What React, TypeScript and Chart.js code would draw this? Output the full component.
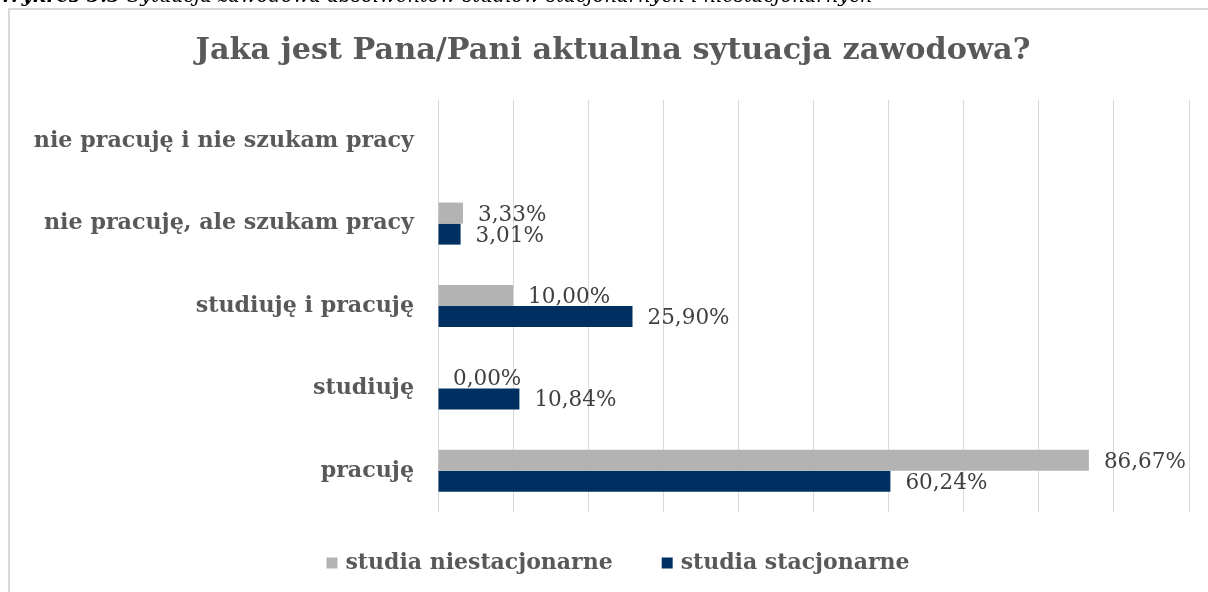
import React, { useEffect, useRef } from "react";
import { Chart, registerables } from "chart.js";

Chart.register(...registerables);

const title = "Jaka jest Pana/Pani aktualna sytuacja zawodowa?";
const caption = "Sytuacja zawodowa absolwentów studiów stacjonarnych i niestacjonarnych";
const captionLead = "Wykres 5.5";
const categories = [
  "nie pracuję i nie szukam pracy",
  "nie pracuję, ale szukam pracy",
  "studiuję i pracuję",
  "studiuję",
  "pracuję",
];
const seriesNames = ["studia niestacjonarne", "studia stacjonarne"];
const niestacjonarne: (number | null)[] = [null, 3.33, 10.0, 0.0, 86.67];
const stacjonarne: (number | null)[] = [null, 3.01, 25.9, 10.84, 60.24];
const seriesColors = ["#b3b3b3", "#002f62"];
const axisMax = 100;
const axisStep = 10;

const FONT = "'DejaVu Serif', serif";

const fmt = (v: number) => v.toFixed(2).replace(".", ",") + "%";

const valueLabels = {
  id: "valueLabels",
  afterDatasetsDraw(chart: any) {
    const ctx = chart.ctx;
    ctx.save();
    ctx.font = `21.5px ${FONT}`;
    ctx.fillStyle = "#404040";
    ctx.textAlign = "left";
    ctx.textBaseline = "middle";
    chart.data.datasets.forEach((ds: any, di: number) => {
      const meta = chart.getDatasetMeta(di);
      meta.data.forEach((el: any, i: number) => {
        const v = ds.data[i];
        if (v === null || v === undefined) return;
        ctx.fillText(fmt(v), el.x + 15, el.y + 2);
      });
    });
    ctx.restore();
  },
};

const titlePlugin = {
  id: "titlePlugin",
  afterDraw(chart: any) {
    const ctx = chart.ctx;
    ctx.save();
    ctx.font = `bold 30.3px ${FONT}`;
    ctx.fillStyle = "#595959";
    ctx.textAlign = "center";
    ctx.textBaseline = "middle";
    ctx.fillText(title, chart.width / 2, 41.2);
    ctx.restore();
  },
};

const customLegend = {
  id: "customLegend",
  afterDraw(chart: any) {
    const ctx = chart.ctx;
    ctx.save();
    ctx.font = `bold 22px ${FONT}`;
    ctx.textBaseline = "middle";
    ctx.textAlign = "left";
    const box = 11;
    const gap = 8;
    const spacing = 49;
    const items = chart.data.datasets.map((ds: any) => ({
      text: ds.label,
      color: ds.backgroundColor,
      w: ctx.measureText(ds.label).width,
    }));
    let total = 0;
    items.forEach((it: any, i: number) => {
      total += box + gap + it.w + (i < items.length - 1 ? spacing : 0);
    });
    let x = chart.width / 2 - total / 2 + 5;
    const y = 553;
    items.forEach((it: any) => {
      ctx.fillStyle = it.color;
      ctx.fillRect(x, y - box / 2, box, box);
      x += box + gap;
      ctx.fillStyle = "#595959";
      ctx.fillText(it.text, x, y);
      x += it.w + spacing;
    });
    ctx.restore();
  },
};

function BarChart() {
  const ref = useRef<HTMLCanvasElement | null>(null);
  useEffect(() => {
    if (!ref.current) return;
    const chart = new Chart(ref.current, {
      type: "bar",
      data: {
        labels: categories,
        datasets: [
          {
            label: seriesNames[0],
            data: niestacjonarne,
            backgroundColor: seriesColors[0],
            categoryPercentage: 0.51,
            barPercentage: 1,
          },
          {
            label: seriesNames[1],
            data: stacjonarne,
            backgroundColor: seriesColors[1],
            categoryPercentage: 0.51,
            barPercentage: 1,
          },
        ],
      },
      options: {
        indexAxis: "y",
        animation: false,
        responsive: false,
        maintainAspectRatio: false,
        layout: { padding: { left: 0, right: 27, top: 90, bottom: 0 } },
        plugins: {
          legend: { display: false },
          tooltip: { enabled: false },
          title: { display: false },
        },
        scales: {
          x: {
            min: 0,
            max: axisMax,
            ticks: { display: false, stepSize: axisStep },
            grid: { color: "#d9d9d9", lineWidth: 1, drawTicks: false },
            border: { display: false },
            afterFit: (s: any) => {
              s.height = 80;
            },
          },
          y: {
            ticks: {
              color: "#595959",
              padding: 24,
              font: { family: FONT, size: 22.2, weight: "bold" },
            },
            grid: { display: false, drawTicks: false },
            border: { display: false },
            afterFit: (s: any) => {
              s.width = 428;
            },
          },
        },
      },
      plugins: [valueLabels, titlePlugin, customLegend],
    });
    return () => chart.destroy();
  }, []);
  return <canvas ref={ref} width={1206} height={582} style={{ display: "block", width: 1206, height: 582 }} />;
}

export default function App() {
  return (
    <>
      <div
        style={{
          position: "fixed",
          left: 0,
          top: -14,
          whiteSpace: "nowrap",
          fontFamily: FONT,
          fontStyle: "italic",
          fontSize: 19.5,
          lineHeight: "20px",
          color: "#000",
        }}
      >
        <b>{captionLead}</b> {caption}
      </div>
      <div
        style={{
          position: "fixed",
          left: 8,
          top: 8,
          width: 1198,
          height: 582,
          overflow: "hidden",
          borderTop: "2px solid #d9d9d9",
          borderLeft: "2px solid #d9d9d9",
          background: "#fff",
        }}
      >
        <BarChart />
      </div>
    </>
  );
}
